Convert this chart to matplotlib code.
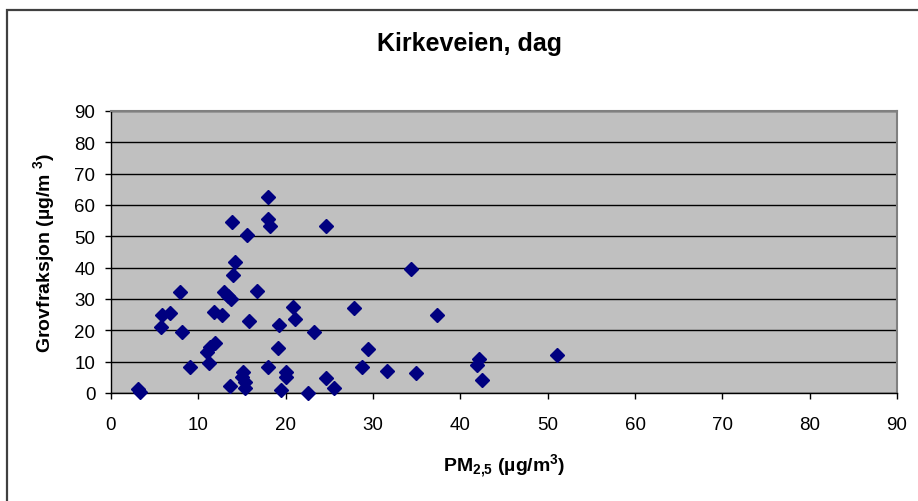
import numpy as np
import matplotlib
matplotlib.use("Agg")
import matplotlib.pyplot as plt
from matplotlib.patches import Rectangle

# PM2.5 vs coarse fraction, Kirkeveien (day)
pm25 = [3.1, 3.3, 18.0, 18.0, 18.25, 13.9, 15.6, 24.6, 14.2, 14.0,
        7.9, 12.9, 13.4, 13.7, 16.7, 5.8, 6.8, 5.7, 8.1, 11.8,
        12.75, 15.8, 20.8, 21.1, 19.2, 23.3, 27.8, 19.1, 11.9, 11.3,
        10.95, 11.2, 9.0, 18.0, 28.7, 15.15, 14.95, 15.35, 15.4, 13.6,
        20.0, 20.05, 19.5, 22.6, 24.6, 25.5, 34.4, 37.3, 29.4, 31.6,
        34.9, 42.1, 41.9, 42.5, 51.1]
grov = [1.2, 0.3, 62.6, 55.5, 53.3, 54.7, 50.3, 53.4, 41.9, 37.7,
        32.1, 32.3, 31.1, 30.1, 32.7, 25.0, 25.5, 21.0, 19.4, 26.0,
        24.9, 23.0, 27.4, 23.5, 21.8, 19.4, 27.1, 14.4, 16.0, 14.6,
        13.2, 9.6, 8.4, 8.4, 8.4, 6.8, 5.2, 3.4, 1.6, 2.2,
        6.8, 5.0, 1.1, 0.0, 4.7, 1.7, 39.5, 24.8, 13.9, 7.1,
        6.5, 10.9, 8.9, 4.1, 12.0]

xticks = list(range(0, 100, 10))
yticks = list(range(0, 100, 10))

plt.rcParams['font.family'] = ['Liberation Sans', 'DejaVu Sans']
plt.rcParams['mathtext.fontset'] = 'custom'
plt.rcParams['mathtext.rm'] = 'Liberation Sans:bold'
plt.rcParams['mathtext.it'] = 'Liberation Sans:bold'
plt.rcParams['mathtext.bf'] = 'Liberation Sans:bold'
plt.rcParams['mathtext.default'] = 'rm'

W, H = 918, 502
fig = plt.figure(figsize=(W / 100, H / 100), dpi=100)
fig.patch.set_facecolor('white')

x0, x1, y0, y1 = 111, 897, 112, 394
ax = fig.add_axes([x0 / W, 1 - y1 / H, (x1 - x0) / W, (y1 - y0) / H])
ax.set_facecolor('#C0C0C0')

ax.set_xlim(0, 90)
ax.set_ylim(0, 90)
ax.set_xticks(xticks)
ax.set_yticks(yticks)
ax.tick_params(direction='out', length=4.3, width=1, labelsize=13.5, color='black')
ax.tick_params(axis='x', pad=12.5)
ax.tick_params(axis='y', pad=7)
ax.yaxis.grid(True, color='black', lw=1)
ax.set_axisbelow(True)

for s in ['top', 'right']:
    ax.spines[s].set_color('#808080')
    ax.spines[s].set_linewidth(1.5)
for s in ['left', 'bottom']:
    ax.spines[s].set_color('black')
    ax.spines[s].set_linewidth(1)

ax.plot(pm25, grov, ls='none', marker='D', ms=6.8, color='#000080', mec='#000080', clip_on=False, zorder=3)

ax.set_xlabel(r'PM$_{2{,}5}$ (µg/m$^{3}$)', fontsize=14, fontweight='bold', va='baseline')
ax.xaxis.set_label_coords(0.5, (y1 - 471.5) / (y1 - y0))
ax.set_ylabel(r'Grovfraksjon (µg/m $^{3}$)', fontsize=14, fontweight='bold', va='center')
ax.yaxis.set_label_coords((44 - x0) / (x1 - x0), 0.5)

fig.text(469 / W, 1 - 50.5 / H, 'Kirkeveien, dag', fontsize=18, fontweight='bold', ha='center', va='baseline')

# outer chart frame (top and left edges visible)
fig.add_artist(Rectangle((7 / W, -0.2), 1.2, 1.2 - 10.5 / H, transform=fig.transFigure,
                         fill=False, ec='#404040', lw=1.6))

fig.savefig('out.png', dpi=100)
